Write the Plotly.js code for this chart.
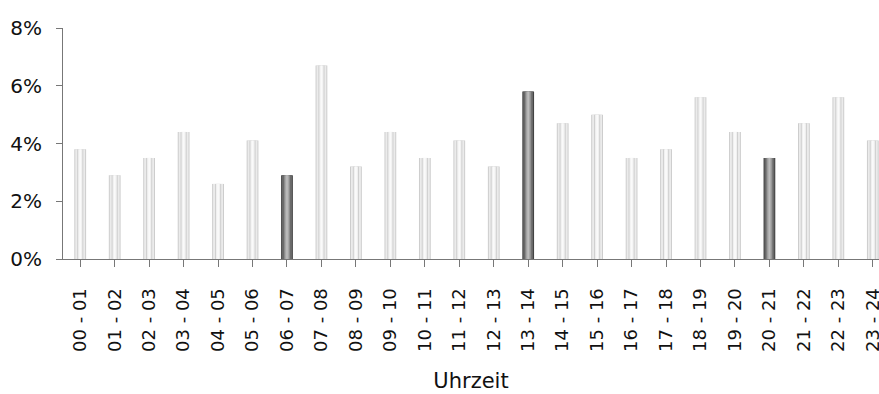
<!DOCTYPE html>
<html>
<head>
<meta charset="utf-8">
<script src="https://cdn.plot.ly/plotly-3.0.1.min.js"></script>
<style>html,body{margin:0;padding:0;background:#fff;}#chart{width:879px;height:394px;}</style>
</head>
<body>
<div id="chart"></div>
<script>
const categories = ["00 - 01","01 - 02","02 - 03","03 - 04","04 - 05","05 - 06","06 - 07","07 - 08","08 - 09","09 - 10","10 - 11","11 - 12","12 - 13","13 - 14","14 - 15","15 - 16","16 - 17","17 - 18","18 - 19","19 - 20","20 - 21","21 - 22","22 - 23","23 - 24"];
const shares = [3.8,2.9,3.5,4.4,2.6,4.1,2.9,6.7,3.2,4.4,3.5,4.1,3.2,5.8,4.7,5.0,3.5,3.8,5.6,4.4,3.5,4.7,5.6,4.1];
const highlighted = ["06 - 07","13 - 14","20 - 21"];
const yTicks = [0,2,4,6,8];

const xIdx = categories.map((c,i)=>i);
const isHi = categories.map(c => highlighted.includes(c));
// layered bars to imitate the cylinder-like shading
const layers = [
  {w:0.34, light:'#c8c8c8', dark:'#3a3a3a'},
  {w:0.29, light:'#ebebeb', dark:'#686868'},
  {w:0.18, light:'#d0d0d0', dark:'#8a8a8a'},
  {w:0.12, light:'#f0f0f0', dark:'#a6a6a6'},
  {w:0.05, light:'#fafafa', dark:'#bcbcbc'}
];
const traces = layers.map(L => ({
  type:'bar', x:xIdx, y:shares, width:L.w,
  marker:{color:isHi.map(h=>h?L.dark:L.light), line:{width:0}},
  hoverinfo:'skip', showlegend:false
}));

const layout = {
  width:879, height:394,
  margin:{l:63, r:0, t:28, b:135},
  paper_bgcolor:'#fff', plot_bgcolor:'#fff',
  barmode:'overlay',
  font:{family:'"DejaVu Sans", sans-serif', color:'#111'},
  xaxis:{
    range:[-0.5, 23.18],
    tickmode:'array', tickvals:xIdx, ticktext:categories,
    tickangle:-90, tickfont:{size:18, color:'#111'},
    ticks:'outside', tickson:'boundaries', ticklen:7, tickcolor:'#777', tickwidth:1,
    ticklabelstandoff:14, ticklabeloverflow:'allow',
    showline:true, linecolor:'#777', linewidth:1,
    showgrid:false, zeroline:false,
    title:{text:'Uhrzeit', font:{size:21, color:'#111'}, standoff:22}
  },
  yaxis:{
    range:[0,8], tickvals:yTicks, ticktext:yTicks.map(v=>v+'%'),
    tickfont:{size:20, color:'#111'},
    ticks:'outside', ticklen:6, tickcolor:'#777',
    ticklabelstandoff:10,
    showline:true, linecolor:'#777', linewidth:1,
    showgrid:false, zeroline:false
  }
};
Plotly.newPlot('chart', traces, layout, {staticPlot:true, displayModeBar:false});
</script>
</body>
</html>
